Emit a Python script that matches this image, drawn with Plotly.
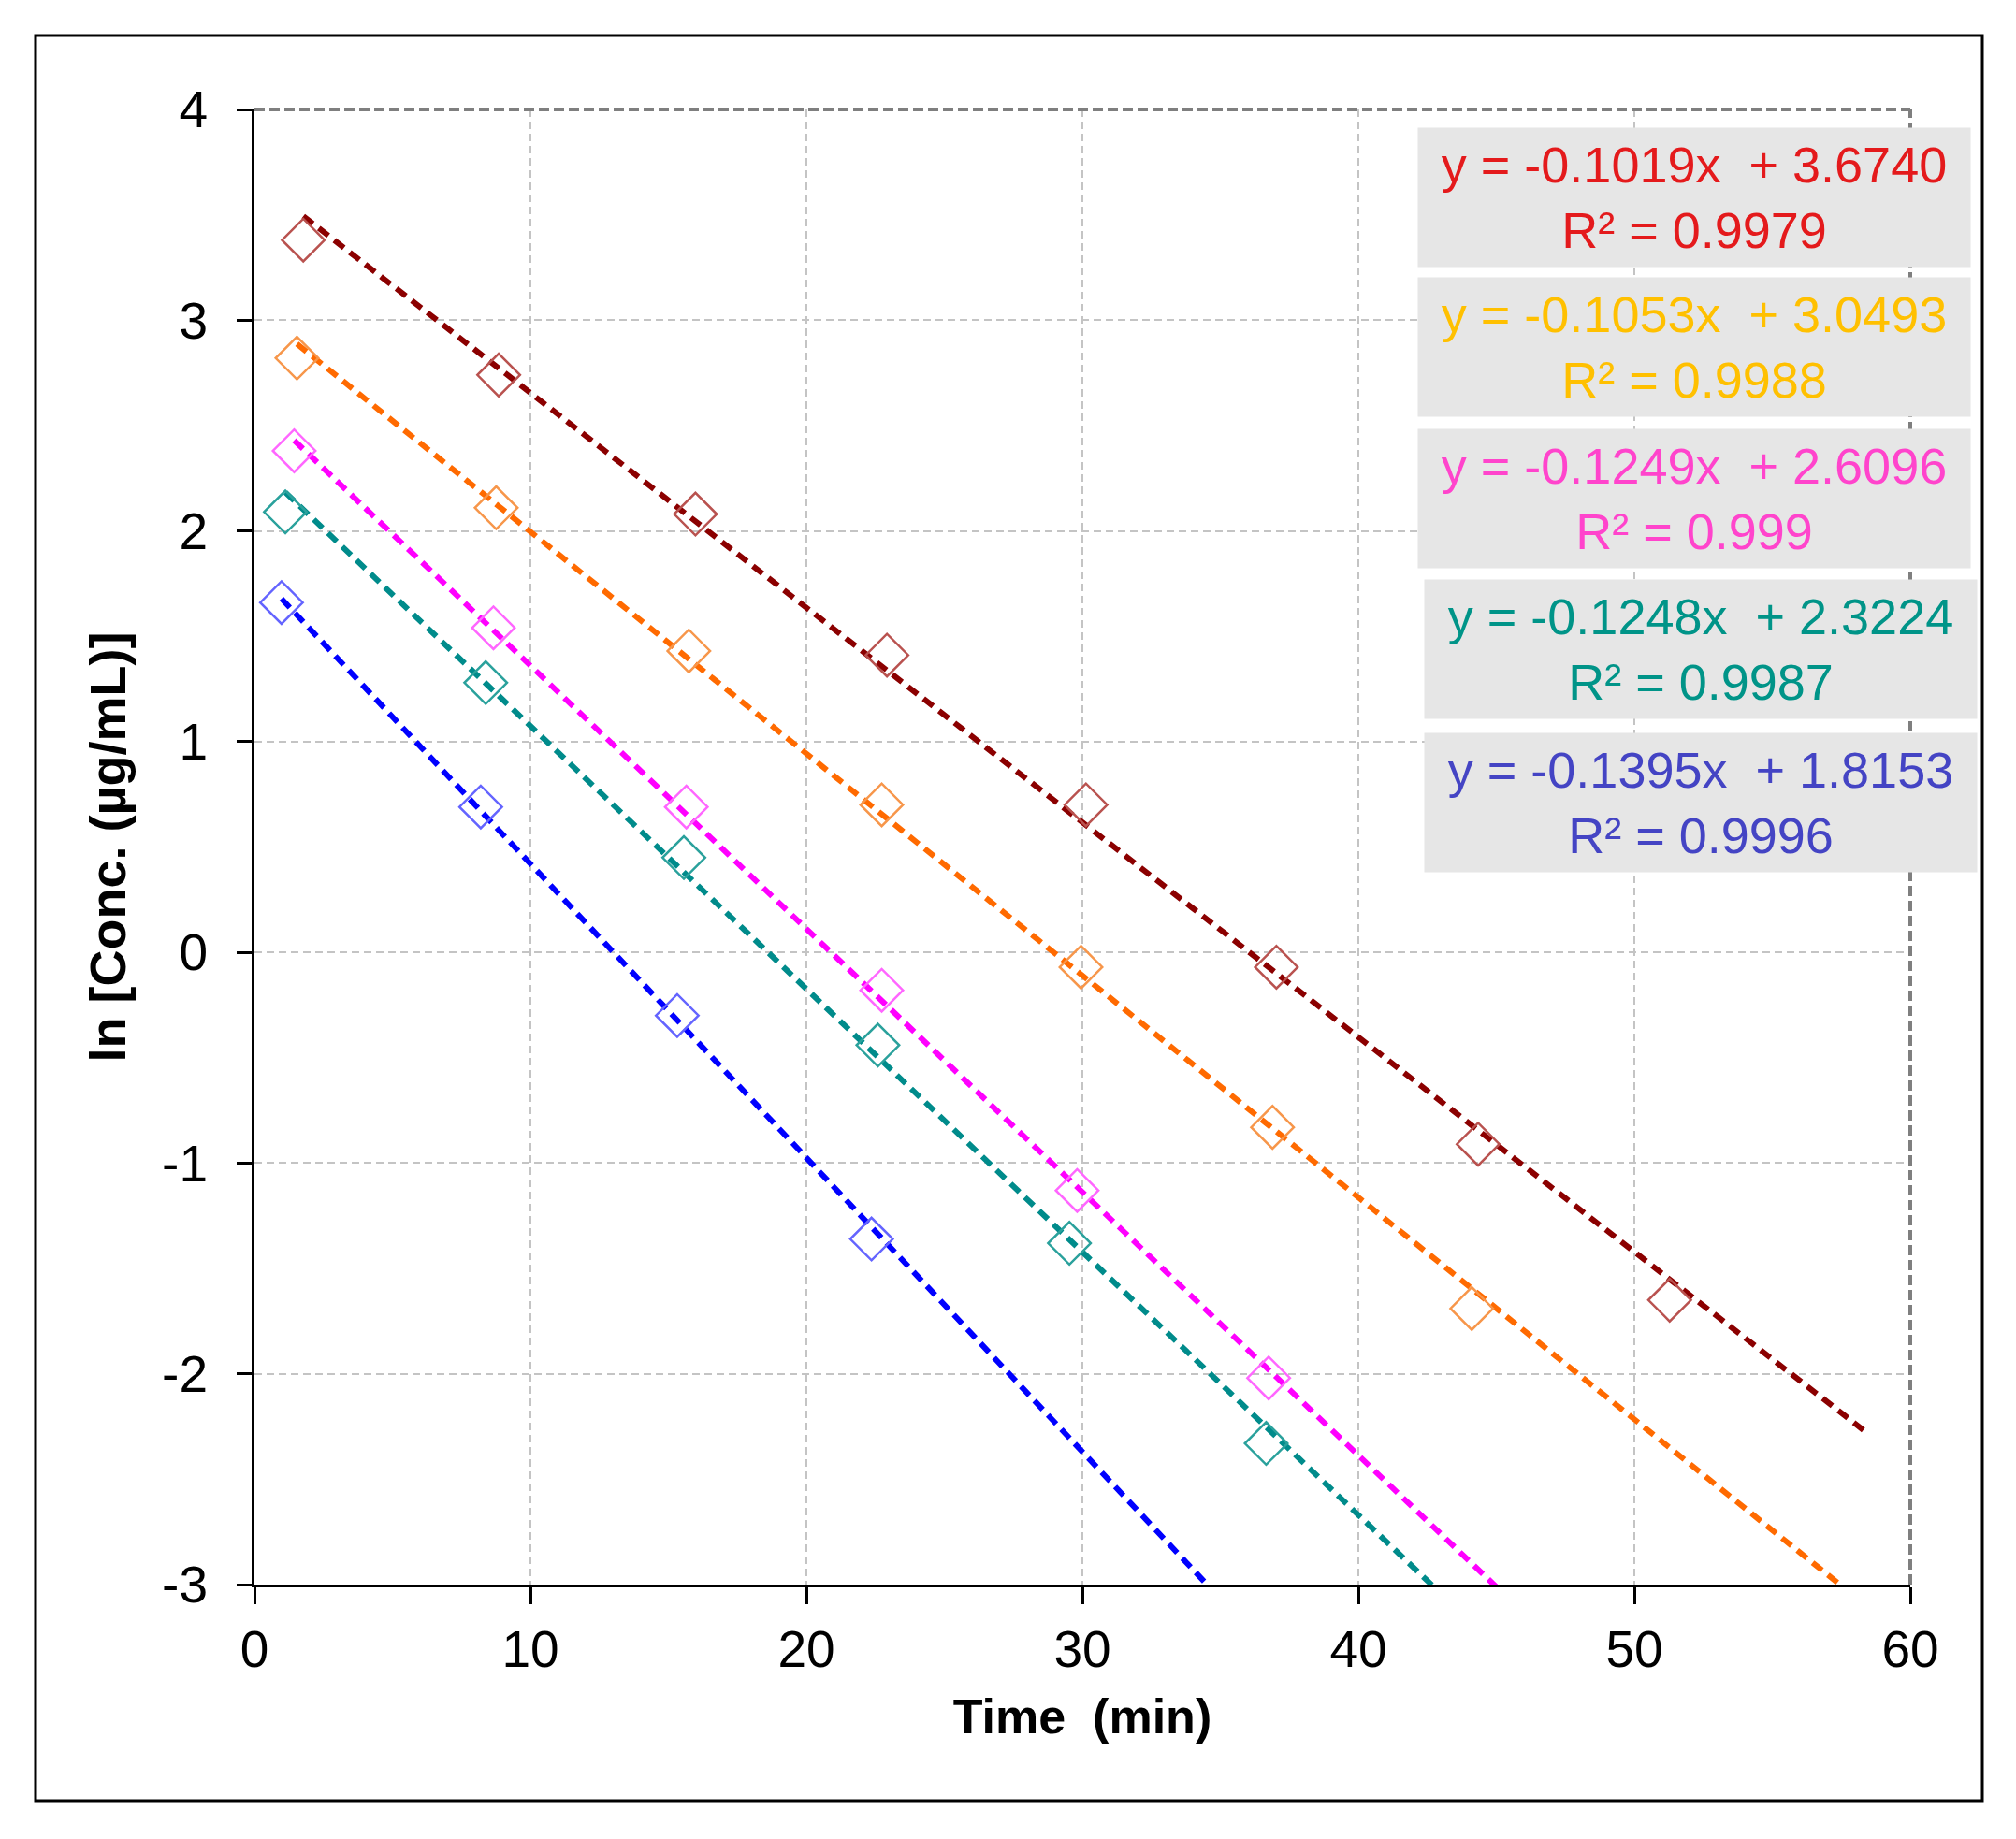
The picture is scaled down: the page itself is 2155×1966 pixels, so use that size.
"""ln 농도-시간 그래프 — 5개 시료의 1차 분해 추세선"""

import plotly.graph_objects as go

time_a = [1.77, 8.85, 15.98, 22.92, 30.13, 37.03, 44.34, 51.28]
ln_a = [3.38, 2.74, 2.08, 1.41, 0.70, -0.07, -0.91, -1.65]

time_b = [1.54, 8.76, 15.74, 22.73, 29.95, 36.89, 44.11]
ln_b = [2.82, 2.11, 1.43, 0.70, -0.07, -0.83, -1.69]

time_c = [1.44, 8.66, 15.65, 22.73, 29.81, 36.75]
ln_c = [2.38, 1.54, 0.69, -0.18, -1.13, -2.02]

time_d = [1.12, 8.38, 15.56, 22.59, 29.53, 36.66]
ln_d = [2.09, 1.28, 0.45, -0.44, -1.38, -2.33]

time_e = [0.98, 8.20, 15.32, 22.36]
ln_e = [1.66, 0.69, -0.30, -1.36]

# 추세선 (y = slope*x + intercept)
slopes = [-0.1019, -0.1053, -0.1249, -0.1248, -0.1395]
intercepts = [3.6740, 3.0493, 2.6096, 2.3224, 1.8153]
r_squared = ['0.9979', '0.9988', '0.999', '0.9987', '0.9996']
fit_x_end = [58.4, 60, 60, 60, 60]

x_ticks = [0, 10, 20, 30, 40, 50, 60]
y_ticks = [-3, -2, -1, 0, 1, 2, 3, 4]
y_tick_text = ['-3', '-2', '-1', '0', '1', '2', '3', '4']

MARKER_COLORS = ['#B9524F', '#F7964A', '#FF66FF', '#2AA19C', '#6464FF']
LINE_COLORS = ['#8B0000', '#FF6A00', '#FF00FF', '#008B8B', '#0000FF']
TEXT_COLORS = ['#E41A1C', '#FFC000', '#FF44CC', '#009488', '#4444C4']

FONT = 'Arial, Liberation Sans, sans-serif'

W, H = 2155, 1966
L, R, T, B = 272, 113, 117, 272


def px_x(px):
    return (px - L) / (W - L - R)


def px_y(py):
    return (H - B - py) / (H - T - B)


series = [
    (time_a, ln_a),
    (time_b, ln_b),
    (time_c, ln_c),
    (time_d, ln_d),
    (time_e, ln_e),
]

fig = go.Figure()

for i, (t, v) in enumerate(series):
    x0, x1 = t[0], fit_x_end[i]
    fig.add_trace(go.Scatter(
        x=[x0, x1],
        y=[slopes[i] * x0 + intercepts[i], slopes[i] * x1 + intercepts[i]],
        mode='lines',
        line=dict(color=LINE_COLORS[i], width=6, dash='13px,8px'),
        showlegend=False,
        hoverinfo='skip',
    ))
    fig.add_trace(go.Scatter(
        x=t,
        y=v,
        mode='markers',
        marker=dict(symbol='diamond-open', size=35, color=MARKER_COLORS[i],
                    line=dict(width=2.5, color=MARKER_COLORS[i])),
        showlegend=False,
    ))

# 추세선 식 박스
box_px = [(1811, 211), (1811, 371), (1811, 533), (1818, 694), (1818, 858)]
for i, (bx, by) in enumerate(box_px):
    fig.add_annotation(
        xref='paper', yref='paper', x=px_x(bx), y=px_y(by),
        xanchor='center', yanchor='middle',
        text=f'y = {slopes[i]:.4f}x  + {intercepts[i]:.4f}<br>R² = {r_squared[i]}',
        showarrow=False, align='center',
        width=590, height=148, borderpad=0,
        bgcolor='#E6E6E6',
        font=dict(family=FONT, size=54, color=TEXT_COLORS[i]),
    )

# 외곽 테두리와 플롯 영역 점선 경계
fig.add_shape(type='rect', xref='paper', yref='paper',
              x0=px_x(38), x1=px_x(2119), y0=px_y(1925), y1=px_y(38),
              line=dict(color='black', width=3), layer='below')
fig.add_shape(type='line', xref='paper', yref='paper', x0=0, x1=1, y0=1, y1=1,
              line=dict(color='#7F7F7F', width=4, dash='11px,5px'))
fig.add_shape(type='line', xref='paper', yref='paper', x0=1, x1=1, y0=0, y1=1,
              line=dict(color='#7F7F7F', width=4, dash='11px,5px'))

fig.update_layout(
    width=W,
    height=H,
    margin=dict(l=L, r=R, t=T, b=B),
    plot_bgcolor='white',
    paper_bgcolor='white',
    font=dict(family=FONT, size=54, color='black'),
    xaxis=dict(
        range=[0, 60], tickvals=x_ticks, tickfont=dict(size=55),
        showgrid=True, gridcolor='#C4C4C4', gridwidth=2, griddash='8px,5px',
        zeroline=False, showline=True, linecolor='black', linewidth=3,
        ticks='outside', ticklen=18, tickwidth=2.5, tickcolor='black',
        ticklabelstandoff=1,
        title=dict(text='Time  (min)', font=dict(size=52, weight='bold'), standoff=24),
    ),
    yaxis=dict(
        range=[-3, 4], tickvals=y_ticks, ticktext=y_tick_text, tickfont=dict(size=55),
        showgrid=True, gridcolor='#C4C4C4', gridwidth=2, griddash='8px,5px',
        zeroline=False, showline=True, linecolor='black', linewidth=3,
        ticks='outside', ticklen=16, tickwidth=2.5, tickcolor='black',
        ticklabelstandoff=20,
        title=dict(text='ln [Conc. (µg/mL)]', font=dict(size=54, weight='bold'), standoff=22),
    ),
)

fig.write_html('out.html', config={'displayModeBar': False},
               post_script="document.body.style.margin='0';document.body.style.overflow='hidden';")
